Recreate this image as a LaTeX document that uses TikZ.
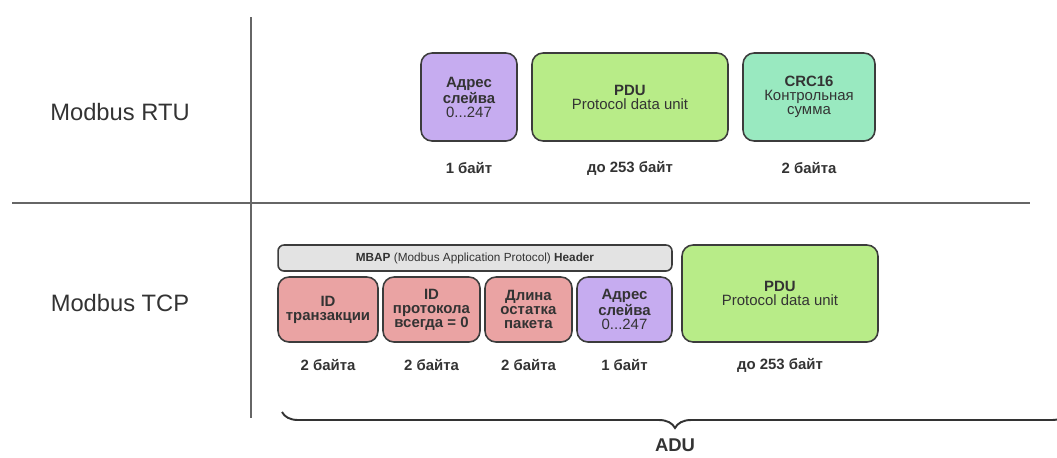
\documentclass[tikz,border=0pt]{standalone}
\usepackage{fontspec}
\setmainfont{Liberation Sans}
\usetikzlibrary{positioning, decorations.pathreplacing}

\definecolor{slavefill}{HTML}{C6ACF0}
\definecolor{pdufill}{HTML}{B8EC88}
\definecolor{crcfill}{HTML}{99E9C0}
\definecolor{mbapfill}{HTML}{EAA3A3}
\definecolor{headfill}{HTML}{E3E3E3}
\definecolor{edgegray}{HTML}{3C3C3C}
\definecolor{txtgray}{HTML}{333333}

\begin{document}
\begin{tikzpicture}[
        x=0.02cm, y=-0.02cm, % pixel grid
        on grid,
        node distance=1.42cm,
        field/.style={draw=edgegray, line width=0.9pt, rounded corners=0.22cm, align=center,
                      font=\fontsize{8.5}{8}\selectfont, text=txtgray, inner sep=1pt},
        bytes/.style={font=\bfseries\fontsize{8.5}{10}\selectfont, text=txtgray}, % byte counts
        proto/.style={font=\fontsize{13.5}{16}\selectfont, text=txtgray},
        divider/.style={draw=gray!80!black, line width=0.6pt},
        adubrace/.style={decorate, decoration={brace, mirror, amplitude=0.32cm}, line width=1.1pt, draw=txtgray}
      ]
        \clip (0,0) rectangle (1057,457);

        % Table lines
        \draw[divider] (251,17) -- (251,418);
        \draw[divider] (12,203) -- (1030,203);

        \node[proto] (rtu) at (120,112) {Modbus RTU};
        \node[proto] (tcp) at (120,303) {Modbus TCP};

        % RTU frame
        \node[field, fill=slavefill, minimum width=1.92cm, minimum height=1.76cm] (rtu_addr) at (469,97)
            {\textbf{Адрес}\\\textbf{слейва}\\0...247};
        \node[field, fill=pdufill, minimum width=3.92cm, minimum height=1.76cm] (rtu_pdu) at (630,97)
            {\textbf{PDU}\\Protocol data unit};
        \node[field, fill=crcfill, minimum width=2.64cm, minimum height=1.76cm] (rtu_crc) at (809,97)
            {\textbf{CRC16}\\Контрольная\\сумма};

        \node[bytes, below=of rtu_addr] (rtu_addr_len) {1 байт};
        \node[bytes, below=of rtu_pdu] (rtu_pdu_len) {до 253 байт};
        \node[bytes, below=of rtu_crc] (rtu_crc_len) {2 байта};

        % TCP frame
        \node[field, fill=headfill, rounded corners=0.12cm, minimum width=7.88cm, minimum height=0.52cm,
              font=\fontsize{6.7}{8}\selectfont] (mbap) at (475,258)
            {\textbf{MBAP} (Modbus Application Protocol) \textbf{Header}};
        \node[field, fill=mbapfill, minimum width=2.0cm, minimum height=1.3cm] (tcp_id) at (328,309.5)
            {\textbf{ID}\\\textbf{транзакции}};
        \node[field, fill=mbapfill, minimum width=1.94cm, minimum height=1.3cm] (tcp_proto) at (431.5,309.5)
            {\textbf{ID}\\\textbf{протокола}\\\textbf{всегда = 0}};
        \node[field, fill=mbapfill, minimum width=1.74cm, minimum height=1.3cm] (tcp_len) at (528.5,309.5)
            {\textbf{Длина}\\\textbf{остатка}\\\textbf{пакета}};
        \node[field, fill=slavefill, minimum width=1.9cm, minimum height=1.3cm] (tcp_addr) at (624.5,309.5)
            {\textbf{Адрес}\\\textbf{слейва}\\0...247};
        \node[field, fill=pdufill, minimum width=3.92cm, minimum height=1.94cm] (tcp_pdu) at (780,293.5)
            {\textbf{PDU}\\Protocol data unit};

        \node[bytes, below=1.11cm of tcp_id] (tcp_id_len) {2 байта};
        \node[bytes, below=1.11cm of tcp_proto] (tcp_proto_len) {2 байта};
        \node[bytes, below=1.11cm of tcp_len] (tcp_len_len) {2 байта};
        \node[bytes, below=1.11cm of tcp_addr] (tcp_addr_len) {1 байт};
        \node[bytes, below=1.43cm of tcp_pdu] (tcp_pdu_len) {до 253 байт};

        % ADU brace
        \draw[adubrace] (282,412) -- (1068,412);
        \node[font=\bfseries\fontsize{10.5}{12}\selectfont, text=txtgray] (adu) at (675,445) {ADU};
    \end{tikzpicture}
\end{document}
